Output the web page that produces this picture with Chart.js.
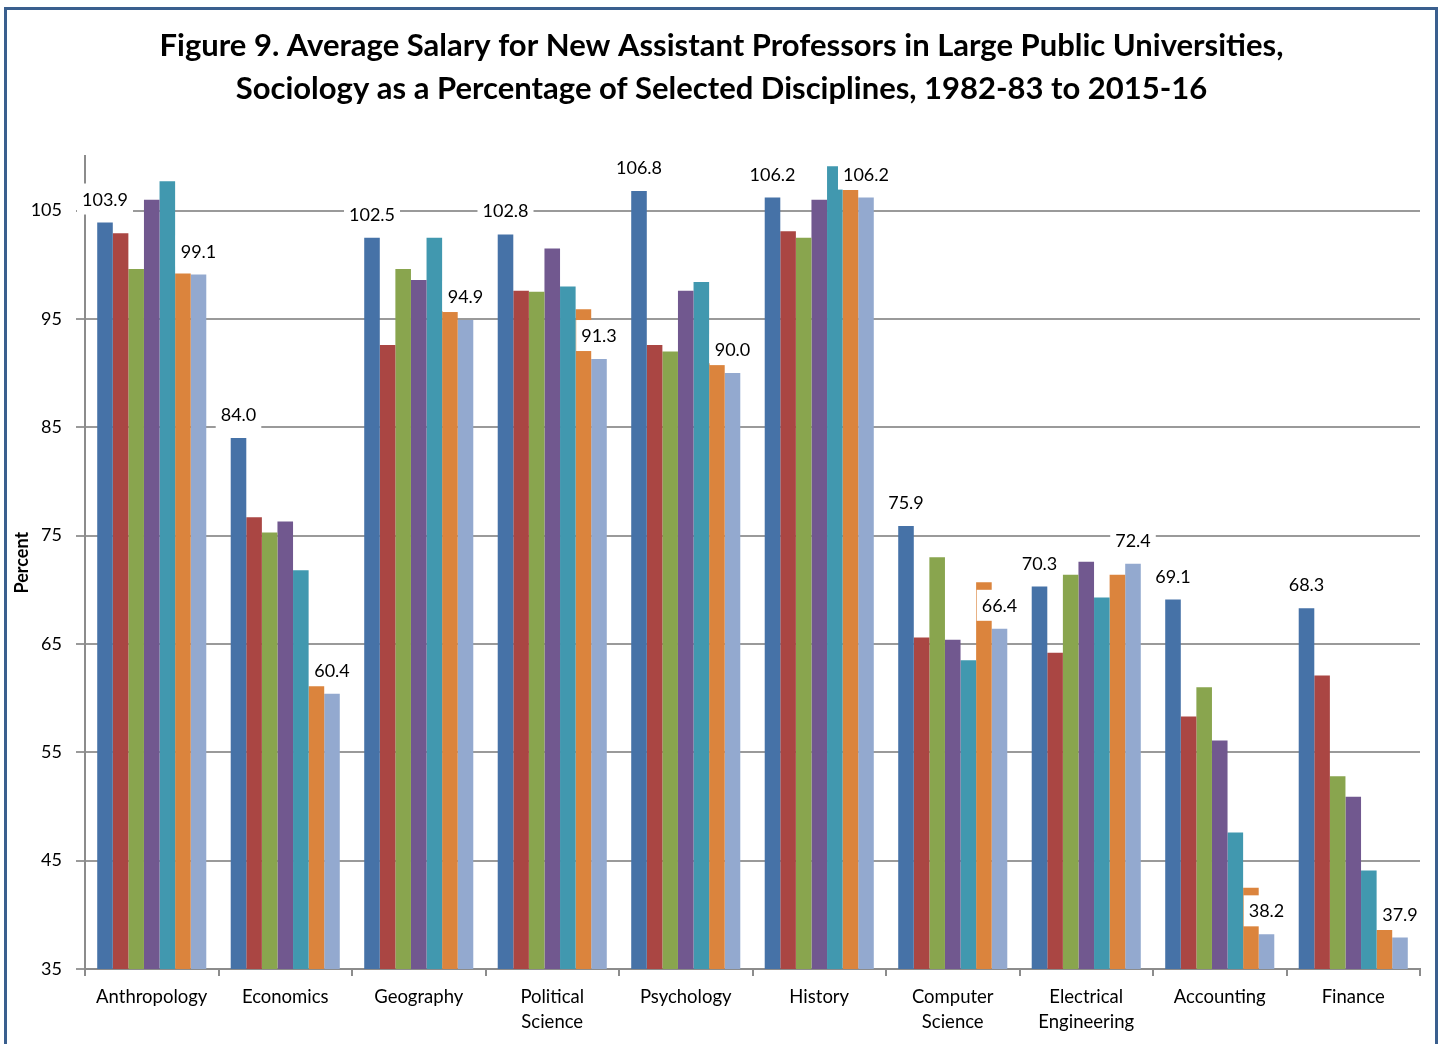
<!DOCTYPE html>
<html lang="en">
<head>
  <meta charset="UTF-8">
  <title>Figure 9. Sociology salary as a percentage of selected disciplines</title>
  <script src="https://cdn.jsdelivr.net/npm/chart.js"></script>
  <style>
    html, body { margin: 0; padding: 0; background: #fff; }
    body { width: 1443px; height: 1044px; overflow: hidden; position: relative; }
    #salaryChart { position: absolute; left: 0; top: 0; }
    /* dark blue frame round the whole figure, bottom edge runs off the page */
    #frame {
      position: absolute; left: 4px; top: 7px; width: 1434px; height: 1100px;
      border: 3px solid #3a5f8e; box-sizing: border-box; pointer-events: none;
    }
  </style>
</head>
<body>
  <canvas id="salaryChart" width="1443" height="1044"></canvas>
  <div id="frame"></div>

  <script>
    // Disciplines on the x axis
    const categories = [
      'Anthropology', 'Economics', 'Geography', ['Political', 'Science'], 'Psychology',
      'History', ['Computer', 'Science'], ['Electrical', 'Engineering'], 'Accounting', 'Finance'
    ];

    // One series per survey year (names are not shown on the figure)
    const seriesNames = ['1982-83', '1987-88', '1992-93', '1997-98', '2002-03', '2009-10', '2015-16'];

    const year1982 = [103.9, 84.0, 102.5, 102.8, 106.8, 106.2, 75.9, 70.3, 69.1, 68.3];
    const year1987 = [102.9, 76.7, 92.6, 97.6, 92.6, 103.1, 65.6, 64.2, 58.3, 62.1];
    const year1992 = [99.6, 75.3, 99.6, 97.5, 92.0, 102.5, 73.0, 71.4, 61.0, 52.8];
    const year1997 = [106.0, 76.3, 98.6, 101.5, 97.6, 106.0, 65.4, 72.6, 56.1, 50.9];
    const year2002 = [107.7, 71.8, 102.5, 98.0, 98.4, 109.1, 63.5, 69.3, 47.6, 44.1];
    const year2009 = [99.2, 61.1, 95.7, 95.9, 90.9, 106.9, 70.7, 71.4, 42.5, 38.6];
    const year2015 = [99.1, 60.4, 94.9, 91.3, 90.0, 106.2, 66.4, 72.4, 38.2, 37.9];

    const seriesColors = ['#4672a7', '#aa4643', '#89a54e', '#71588f', '#4198af', '#db843d', '#93a9cf'];

    const yTicks = [35, 45, 55, 65, 75, 85, 95, 105];

    // only the first and the last series carry value labels
    const labelledSeries = [0, 6];

    Chart.defaults.font.family = 'Lato, "Open Sans", sans-serif';
    Chart.defaults.color = '#000';

    // value labels sit on a white box, drawn over bars and axes like the original
    const valueLabels = {
      id: 'valueLabels',
      afterDraw(chart) {
        const ctx = chart.ctx;
        ctx.save();
        ctx.font = '18px Lato, "Open Sans", sans-serif';
        ctx.textAlign = 'center';
        ctx.textBaseline = 'alphabetic';
        labelledSeries.forEach(i => {
          const meta = chart.getDatasetMeta(i);
          meta.data.forEach((bar, j) => {
            const text = chart.data.datasets[i].data[j].toFixed(1);
            const w = ctx.measureText(text).width;
            const base = bar.y - 17;
            ctx.fillStyle = '#fff';
            ctx.fillRect(bar.x - w / 2 - 5, bar.y - 39, w + 10, 31);
            ctx.fillStyle = '#000';
            ctx.fillText(text, bar.x, base);
          });
        });
        ctx.restore();
      }
    };

    const allSeries = [year1982, year1987, year1992, year1997, year2002, year2009, year2015];

    const data = {
      labels: categories,
      datasets: allSeries.map((values, i) => ({
        label: seriesNames[i],
        data: values,
        backgroundColor: seriesColors[i],
        borderWidth: 0,
        barPercentage: 1.0,
        categoryPercentage: 0.817
      }))
    };

    const config = {
      type: 'bar',
      data: data,
      options: {
        responsive: false,
        animation: false,
        layout: { padding: 0 },
        scales: {
          x: {
            grid: {
              display: true,
              offset: true,
              drawOnChartArea: false,
              drawTicks: true,
              tickLength: 7,
              color: '#8c8c8c',
              lineWidth: 2
            },
            border: { display: true, color: '#8c8c8c', width: 2 },
            ticks: {
              color: '#000',
              font: { size: 18.5, lineHeight: 1.38 },
              padding: 8,
              maxRotation: 0,
              autoSkip: false
            },
            afterFit(scale) { scale.height = 75; }
          },
          y: {
            min: 35,
            max: 110,
            afterBuildTicks(scale) {
              scale.ticks = yTicks.map(v => ({ value: v }));
            },
            grid: { color: '#9a9a9a', lineWidth: 2, drawTicks: true, tickLength: 9 },
            border: { display: true, color: '#8c8c8c', width: 2 },
            ticks: { color: '#000', font: { size: 18 }, padding: 14 },
            title: {
              display: true,
              text: 'Percent',
              color: '#000',
              font: { size: 18, weight: 'bold', lineHeight: 1.2 },
              padding: { top: 11, bottom: 0 }
            },
            afterFit(scale) { scale.width = 85; }
          },
          // empty axis that only keeps the right margin, so the title stays centred on the page
          rightGap: {
            type: 'linear',
            position: 'right',
            display: true,
            grid: { display: false },
            ticks: { display: false },
            border: { display: false },
            afterFit(scale) { scale.width = 23; }
          }
        },
        plugins: {
          legend: { display: false },
          tooltip: { enabled: false },
          title: {
            display: true,
            text: [
              'Figure 9. Average Salary for New Assistant Professors in Large Public Universities,',
              'Sociology as a Percentage of Selected Disciplines, 1982-83 to 2015-16'
            ],
            color: '#000',
            font: { size: 31, weight: 'bold', lineHeight: 1.394 },
            padding: { top: 24, bottom: 46 }
          }
        }
      },
      plugins: [valueLabels]
    };

    const ctx = document.getElementById('salaryChart').getContext('2d');
    new Chart(ctx, config);
  </script>
</body>
</html>
